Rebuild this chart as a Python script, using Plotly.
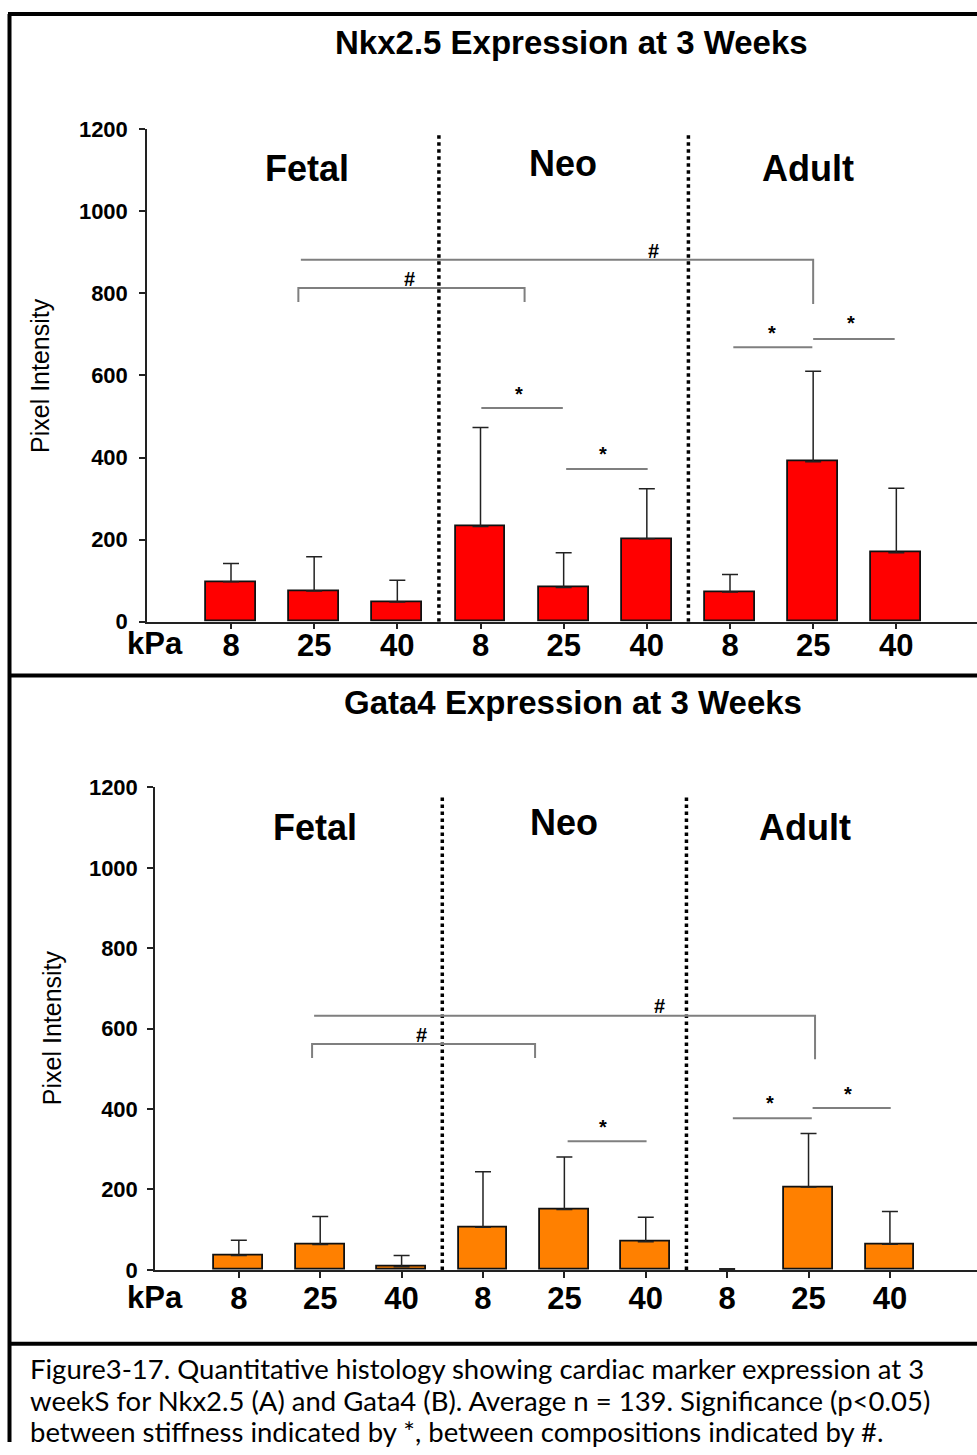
import plotly.graph_objects as go

# ---------------- data ----------------
kpa_labels = ["8", "25", "40", "8", "25", "40", "8", "25", "40"]
group_names = ["Fetal", "Neo", "Adult"]
nkx_mean = [97, 75, 48, 232, 83, 202, 72, 390, 168]
nkx_err = [45, 83, 53, 241, 85, 122, 43, 220, 157]
gata_mean = [36, 63, 8, 106, 150, 70, 0, 206, 64]
gata_err = [38, 70, 28, 138, 131, 61, 3, 133, 81]
y_ticks = [0, 200, 400, 600, 800, 1000, 1200]

W, H = 977, 1455
FONT = "Liberation Sans, Arial, sans-serif"
# vertical correction of target pixel rows (screen-capture calibration)
Y_OFF, Y_SCALE = 10.6, 0.984


def px(x):
    return x / W


def py(y):
    yc = (y - Y_OFF) / Y_SCALE
    return min(1.0, max(0.0, 1 - yc / H))


xs = list(range(len(kpa_labels)))

fig = go.Figure()

panels = [
    dict(mean=nkx_mean, err=nkx_err, color="#FF0000", xa="x", ya="y",
         title="Nkx2.5 Expression at 3 Weeks", title_xy=(571, 41)),
    dict(mean=gata_mean, err=gata_err, color="#FF8000", xa="x2", ya="y2",
         title="Gata4 Expression at 3 Weeks", title_xy=(573, 702)),
]

for p in panels:
    outline = [1.8 if v > 0 else 0 for v in p["mean"]]
    fig.add_trace(go.Bar(
        x=xs, y=p["mean"], width=0.6, xaxis=p["xa"], yaxis=p["ya"],
        marker=dict(color=p["color"], line=dict(color="#111111", width=outline)),
        error_y=dict(type="data", array=p["err"], arrayminus=[0] * len(p["err"]),
                     symmetric=False, color="#222222", thickness=1.5, width=8),
        showlegend=False,
    ))

axis_common_x = dict(
    tickmode="array", tickvals=xs, ticktext=kpa_labels,
    showline=True, linecolor="#222222", linewidth=1.5,
    ticks="outside", ticklen=6, tickwidth=1.5, tickcolor="#222222",
    tickfont=dict(family=FONT, size=31, color="black", weight="bold"),
    showgrid=False, zeroline=False, fixedrange=True,
)
axis_common_y = dict(
    range=[0, 1200], tickmode="array", tickvals=y_ticks,
    showline=True, linecolor="#222222", linewidth=1.5,
    ticks="outside", ticklen=6, tickwidth=1.5, tickcolor="#222222",
    tickfont=dict(family=FONT, size=22, color="black", weight="bold"),
    showgrid=False, zeroline=False, fixedrange=True,
)

fig.update_layout(
    width=W, height=H,
    margin=dict(l=0, r=0, t=0, b=0, pad=0),
    paper_bgcolor="white", plot_bgcolor="white",
    bargap=0,
    xaxis=dict(axis_common_x, domain=[px(147), 1.0], range=[-1.01, 8.97], anchor="y",
               ticklabelstandoff=-11),
    yaxis=dict(axis_common_y, domain=[py(621), py(128)], anchor="x", ticklabelstandoff=7),
    xaxis2=dict(axis_common_x, domain=[px(155), 1.0], range=[-1.03, 9.07], anchor="y2",
                ticklabelstandoff=-6),
    yaxis2=dict(axis_common_y, domain=[py(1270), py(787)], anchor="x2", ticklabelstandoff=5),
)

shapes = []
annotations = []

# dotted separators
for xa, ya, top in [("x", "y", 1188), ("x2", "y2", 1180)]:
    for xv in (2.5, 5.5):
        shapes.append(dict(type="line", xref=xa, yref=ya, x0=xv, x1=xv, y0=0, y1=top,
                           line=dict(color="black", width=3.5, dash="3.5px,3.5px")))

# group labels
group_pos = {
    ("x", "y"): [(0.914, 1105), (3.99, 1117), (6.94, 1105)],
    ("x2", "y2"): [(0.93, 1101), (4.0, 1113), (6.96, 1101)],
}
for (xa, ya), posl in group_pos.items():
    for name, (gx, gy) in zip(group_names, posl):
        annotations.append(dict(x=gx, y=gy, xref=xa, yref=ya, text=name, showarrow=False,
                                font=dict(family=FONT, size=36, color="black", weight="bold")))

GRAY = "#7f7f7f"
# brackets "#": (x0, x1, y, left_drop_y, right_drop_y, label_x, label_y)
brackets = {
    ("x", "y"): [(0.84, 7.0, 882, None, 774, 5.08, 903),
                 (0.81, 3.53, 813, 779, 779, 2.15, 835)],
    ("x2", "y2"): [(0.925, 7.08, 632, None, 524, 5.17, 656),
                   (0.90, 3.64, 562, 527, 527, 2.24, 585)],
}
for (xa, ya), bl in brackets.items():
    for x0, x1, yb, ld, rd, lx, ly in bl:
        if ld is not None:
            path = f"M{x0},{ld} L{x0},{yb} L{x1},{yb}"
        else:
            path = f"M{x0},{yb} L{x1},{yb}"
        if rd is not None:
            path += f" L{x1},{rd}"
        shapes.append(dict(type="path", xref=xa, yref=ya, path=path,
                           line=dict(color=GRAY, width=2)))
        annotations.append(dict(x=lx, y=ly, xref=xa, yref=ya, text="#", showarrow=False,
                                font=dict(family=FONT, size=20, color="black", weight="bold")))

# "*" lines: (x0, x1, y, star_x, star_y)
stars = {
    ("x", "y"): [(3.01, 3.99, 521, 3.46, 556), (4.03, 5.01, 372, 4.47, 408),
                 (6.04, 6.99, 669, 6.5, 703), (7.0, 7.98, 689, 7.46, 727)],
    ("x2", "y2"): [(4.04, 5.01, 320, 4.48, 356), (6.07, 7.04, 377, 6.53, 414),
                   (7.05, 8.01, 403, 7.49, 438)],
}
for (xa, ya), sl in stars.items():
    for x0, x1, ys, sx, sy in sl:
        shapes.append(dict(type="line", xref=xa, yref=ya, x0=x0, x1=x1, y0=ys, y1=ys,
                           line=dict(color=GRAY, width=2)))
        annotations.append(dict(x=sx, y=sy, xref=xa, yref=ya, text="*", showarrow=False,
                                font=dict(family=FONT, size=20, color="black", weight="bold")))

# titles
for p in panels:
    tx, ty = p["title_xy"]
    annotations.append(dict(x=px(tx), y=py(ty), xref="paper", yref="paper", text=p["title"],
                            showarrow=False, xanchor="center", yanchor="middle",
                            font=dict(family=FONT, size=33, color="black", weight="bold")))

# kPa labels
for ky in (643, 1298):
    annotations.append(dict(x=px(155), y=py(ky), xref="paper", yref="paper", text="kPa",
                            showarrow=False, xanchor="center", yanchor="middle",
                            font=dict(family=FONT, size=31, color="black", weight="bold")))

# y-axis titles
for (ax_x, ax_y) in [(40, 375), (52, 1028)]:
    annotations.append(dict(x=px(ax_x), y=py(ax_y), xref="paper", yref="paper",
                            text="Pixel Intensity", textangle=-90, showarrow=False,
                            xanchor="center", yanchor="middle",
                            font=dict(family=FONT, size=25, color="black")))

# caption
caption_lines = [
    "Figure3-17. Quantitative histology showing cardiac marker expression at 3",
    "weekS for Nkx2.5 (A) and Gata4 (B). Average n = 139. Significance (p<0.05)",
    "between stiffness indicated by *, between compositions indicated by #.",
]
for line, cy in zip(caption_lines, (1369, 1401, 1432)):
    annotations.append(dict(x=px(28), y=py(cy), xref="paper", yref="paper", text=line,
                            showarrow=False, xanchor="left", yanchor="middle",
                            font=dict(family="Lato, Open Sans, sans-serif", size=27.5, color="black")))

# frame borders
BL = dict(color="black", width=4)
top_y = 1 - 2 / H
shapes += [
    dict(type="line", xref="paper", yref="paper", x0=px(8), x1=1.0, y0=top_y, y1=top_y, line=BL),
    dict(type="line", xref="paper", yref="paper", x0=px(9.5), x1=px(9.5), y0=top_y, y1=0, line=BL),
    dict(type="line", xref="paper", yref="paper", x0=px(8), x1=1.0, y0=py(675), y1=py(675), line=BL),
    dict(type="line", xref="paper", yref="paper", x0=px(8), x1=1.0, y0=py(1344), y1=py(1344), line=BL),
]

fig.update_layout(shapes=shapes, annotations=annotations)
fig.write_html("out.html", config={"displayModeBar": False},
               post_script="document.body.style.margin='0';document.body.style.overflow='hidden';")
